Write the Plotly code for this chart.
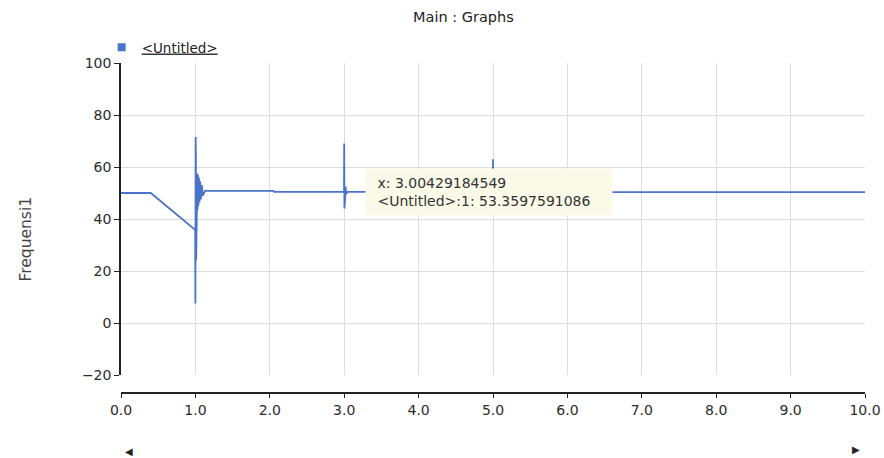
import plotly.graph_objects as go

# Frequency trace (time in s, frequency in Hz)
time_s = [0.0, 0.40, 0.997, 1.000, 1.003, 1.006, 1.010, 1.014, 1.018, 1.023,
          1.028, 1.034, 1.040, 1.047, 1.055, 1.064, 1.074, 1.086, 1.10, 1.13,
          2.05, 2.06, 2.998, 3.000, 3.003, 3.007, 3.012, 3.018, 3.026, 3.04,
          4.998, 5.000, 5.004, 5.01, 10.0]
freq_hz = [50.0, 50.0, 35.8, 7.5, 71.5, 66.0, 24.0, 62.0, 40.0, 57.5,
           43.5, 57.0, 45.0, 56.0, 46.5, 54.5, 47.5, 53.0, 49.0, 50.8,
           50.8, 50.4, 50.4, 69.0, 44.0, 56.0, 47.5, 52.5, 49.5, 50.4,
           50.4, 63.0, 48.0, 50.3, 50.3]

series_name = "<Untitled>"
x_ticks = [0, 1, 2, 3, 4, 5, 6, 7, 8, 9, 10]
y_ticks = [-20, 0, 20, 40, 60, 80, 100]

# hover readout shown on the chart
cursor_x = 3.00429184549
cursor_y = 53.3597591086

LINE = "#4a74c9"
TEXT = "#2b2b2b"
FONT = "DejaVu Sans, Verdana, sans-serif"

fig = go.Figure()
fig.add_trace(go.Scatter(
    x=time_s, y=freq_hz, mode="lines", name=series_name,
    line=dict(color=LINE, width=1.8), showlegend=False, legendgroup="s",
))
# legend entry drawn as a small square
fig.add_trace(go.Scatter(
    x=[None], y=[None], mode="markers", name="<u>&lt;Untitled&gt;</u>",
    marker=dict(symbol="square", size=8, color=LINE), legendgroup="s",
))

fig.update_layout(
    width=884, height=458,
    margin=dict(l=121, r=19, t=63, b=65, autoexpand=False),
    paper_bgcolor="white", plot_bgcolor="white",
    font=dict(family=FONT, size=14, color=TEXT),
    showlegend=True,
    legend=dict(x=-0.026, y=1.0, xanchor="left", yanchor="bottom",
                orientation="h", font=dict(size=13.5, color="#222"),
                bgcolor="rgba(0,0,0,0)", itemwidth=30),
    xaxis=dict(
        range=[0, 10], tickvals=x_ticks, tickformat=".1f",
        anchor="free", position=0, automargin=False,
        showline=True, linecolor="#222", linewidth=1.5,
        ticks="outside", ticklen=4, tickcolor="#222",
        showgrid=True, gridcolor="#dcdcdc", gridwidth=1,
        zeroline=False, tickfont=dict(size=14, color=TEXT),
    ),
    yaxis=dict(
        range=[-20, 100], tickvals=y_ticks, domain=[18 / 330, 1],
        automargin=False,
        showline=True, linecolor="#222", linewidth=1.5,
        ticks="outside", ticklen=5, tickcolor="#222",
        showgrid=True, gridcolor="#dcdcdc", gridwidth=1,
        zeroline=False, tickfont=dict(size=14, color=TEXT),
    ),
    annotations=[
        dict(text="Main : Graphs", xref="paper", yref="paper",
             x=0.46, y=1.0, yshift=56, showarrow=False,
             font=dict(size=14.5, color="#222")),
        dict(text="Frequensi1", xref="paper", yref="paper",
             x=0, xanchor="center", xshift=-95, y=0.465, textangle=-90,
             showarrow=False, font=dict(size=15.5, color="#444")),
        dict(text=f"&nbsp;x: {cursor_x}<br>&nbsp;&lt;Untitled&gt;:1: {cursor_y}",
             xref="x", yref="y", x=3.28, y=50.4,
             xanchor="left", yanchor="middle", align="left",
             width=232, height=32,
             showarrow=False, bgcolor="#fbfae8", borderpad=7,
             font=dict(size=14, color="#333")),
        dict(text="◀", xref="paper", yref="paper", x=0.0, xshift=2,
             y=0, yshift=-58, yanchor="middle", showarrow=False,
             font=dict(size=10, color="#222")),
        dict(text="▶", xref="paper", yref="paper", x=1.0, xshift=-3,
             y=0, yshift=-56, yanchor="middle", showarrow=False,
             font=dict(size=10, color="#222")),
    ],
)

fig.write_html("out.html")
